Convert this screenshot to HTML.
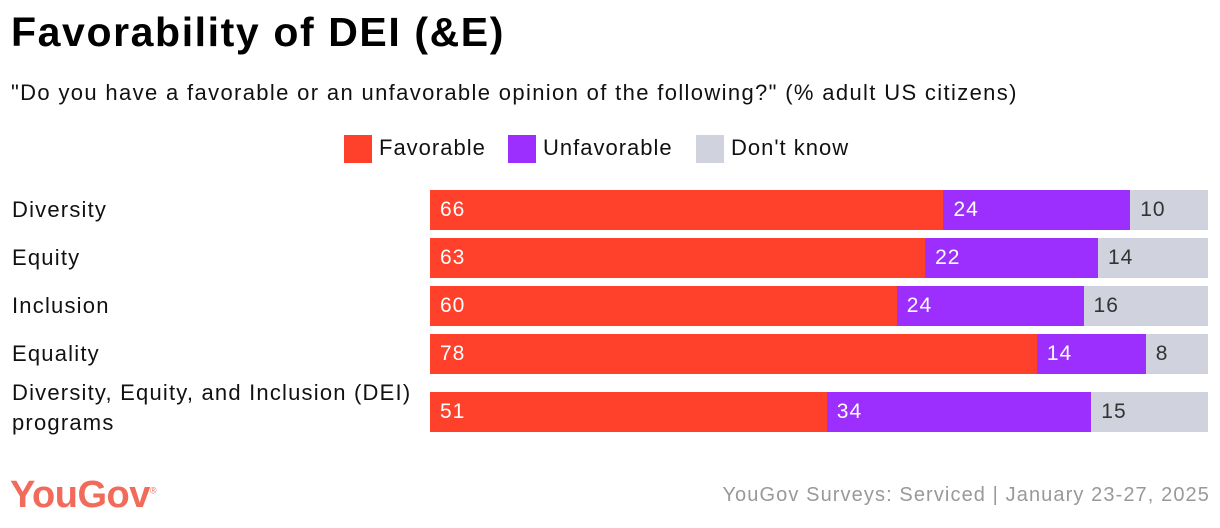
<!DOCTYPE html>
<html><head><meta charset="utf-8">
<style>
body{margin:0;width:1220px;height:528px;background:#fff;font-family:"Liberation Sans",sans-serif;position:relative;overflow:hidden}
.t{position:absolute;white-space:nowrap}
</style></head><body>
<div class="t" style="left:11px;top:9px;font-size:41px;font-weight:bold;color:#000;letter-spacing:1.6px">Favorability of DEI (&amp;E)</div>
<div class="t" style="left:11px;top:80px;font-size:22px;color:#111;letter-spacing:1.35px">"Do you have a favorable or an unfavorable opinion of the following?" (% adult US citizens)</div>
<div style="position:absolute;left:344px;top:135px;height:28px;font-size:22px;color:#111;letter-spacing:1px">
 <span class="t" style="left:0;top:0"><span style="display:inline-block;width:28px;height:28px;background:#ff412c;vertical-align:middle;margin-right:7px"></span>Favorable</span>
 <span class="t" style="left:164px;top:0"><span style="display:inline-block;width:28px;height:28px;background:#9d2ffe;vertical-align:middle;margin-right:7px"></span>Unfavorable</span>
 <span class="t" style="left:352px;top:0"><span style="display:inline-block;width:28px;height:28px;background:#d0d3dd;vertical-align:middle;margin-right:7px"></span>Don't know</span>
</div>
<div id="chart"></div>
<div class="t" style="left:10px;top:474px;font-size:38px;font-weight:bold;color:#f26a5a;letter-spacing:-0.5px">YouGov<sup style="font-size:9px;font-weight:normal">®</sup></div>
<div class="t" style="right:10px;top:484px;font-size:20px;color:#999;letter-spacing:1.1px">YouGov Surveys: Serviced | January 23-27, 2025</div>
<script>
const categories=["Diversity","Equity","Inclusion","Equality","Diversity, Equity, and Inclusion (DEI) programs"];
const favorable=[66,63,60,78,51];
const unfavorable=[24,22,24,14,34];
const dontKnow=[10,14,16,8,15];
const x0=430,W=778;
const tops=[190,238,286,334,392];
const c=document.getElementById('chart');
function rect(l,t,w,col,val,name,dark){
 const d=document.createElement('div');
 
 
 d.style.cssText=`position:absolute;left:${l}px;top:${t}px;width:${w}px;height:40px;background:${col};font-size:21px;letter-spacing:1px;line-height:40px;color:${dark?'#333':'#fff'};box-sizing:border-box;padding-left:10px;white-space:nowrap`;
 d.textContent=val;c.appendChild(d);
}
categories.forEach((cat,i)=>{
 const t=tops[i];
 const tot=favorable[i]+unfavorable[i]+dontKnow[i];
 const xs=v=>v/tot*W;
 const lab=document.createElement('div');
 
 
 lab.style.cssText=`position:absolute;left:12px;width:415px;font-size:22px;letter-spacing:1.2px;color:#111;line-height:30px;top:${i==4?t-14:t+5}px`;
 lab.textContent=cat;c.appendChild(lab);
 let x=x0;
 rect(x,t,xs(favorable[i]),'#ff412c',favorable[i],'bar-favorable',false);x+=xs(favorable[i]);
 rect(x,t,xs(unfavorable[i]),'#9d2ffe',unfavorable[i],'bar-unfavorable',false);x+=xs(unfavorable[i]);
 rect(x,t,x0+W-x,'#d0d3dd',dontKnow[i],'bar-dont-know',true);
});
</script>
</body></html>
